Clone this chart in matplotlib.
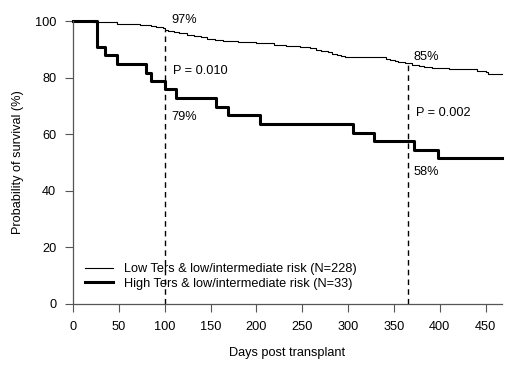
import matplotlib
matplotlib.use("Agg")
import matplotlib.pyplot as plt

plt.rcParams['font.family'] = ['Liberation Sans', 'DejaVu Sans']

# Low Ters group (N=228): event days and survival (%)
low_days = [0, 22, 48, 73, 85, 91, 98, 100, 104, 110, 116, 124, 132, 140, 146, 155,
            164, 180, 200, 219, 232, 248, 258, 265, 270, 278, 283, 288, 292, 297,
            341, 346, 351, 355, 362, 370, 377, 383, 392, 410, 441, 450, 453, 468]
low_surv = [100, 99.6, 99.1, 98.7, 98.3, 97.8, 97.4, 97.0, 96.5, 96.1, 95.6, 95.2, 94.7,
            94.3, 93.8, 93.4, 92.9, 92.5, 92.1, 91.6, 91.2, 90.7, 90.3, 89.8, 89.4,
            88.9, 88.5, 88.1, 87.6, 87.2, 86.7, 86.3, 85.8, 85.4, 85.0, 84.6, 84.2,
            83.7, 83.3, 82.9, 82.4, 81.9, 81.4, 81.4]

# High Ters group (N=33)
high_days = [0, 26, 35, 48, 80, 85, 100, 112, 156, 169, 204, 305, 328, 372, 398, 468]
high_surv = [100, 90.9, 87.9, 84.8, 81.8, 78.8, 75.8, 72.7, 69.7, 66.7, 63.6, 60.6,
             57.6, 54.5, 51.5, 51.5]

landmarks = [100, 365]
landmark_low = [97, 85]
labels_low = ["97%", "85%"]
labels_high = ["79%", "58%"]
pvals = ["P = 0.010", "P = 0.002"]

fs = 9.2

fig = plt.figure(figsize=(5.2, 3.76), dpi=100)
ax = fig.add_axes([0.1404, 0.1915, 0.825, 0.7526])

ax.step(low_days, low_surv, where='post', color='black', lw=0.8,
        label="Low Ters & low/intermediate risk (N=228)", clip_on=False)
ax.step(high_days, high_surv, where='post', color='black', lw=2.2,
        label="High Ters & low/intermediate risk (N=33)", clip_on=False)

for d, v in zip(landmarks, landmark_low):
    ax.plot([d, d], [0, v], color='black', lw=1.0, ls=(0, (4, 3)))

ax.text(107, 100.5, labels_low[0], fontsize=fs, va='center')
ax.text(109, 82.4, pvals[0], fontsize=fs, va='center')
ax.text(107, 66.2, labels_high[0], fontsize=fs, va='center')
ax.text(371, 87.4, labels_low[1], fontsize=fs, va='center')
ax.text(374, 67.4, pvals[1], fontsize=fs, va='center')
ax.text(371, 46.5, labels_high[1], fontsize=fs, va='center')

ax.set_xlim(0, 468)
ax.set_ylim(0, 100)
ax.set_xticks(range(0, 451, 50))
ax.set_yticks(range(0, 101, 20))
for s in ['top', 'right']:
    ax.spines[s].set_visible(False)
for s in ['left', 'bottom']:
    ax.spines[s].set_color('#555555')
    ax.spines[s].set_linewidth(0.9)
ax.tick_params(axis='both', length=6, width=0.8, color='#555555', labelsize=fs, pad=6)

ax.set_xlabel("Days post transplant", fontsize=fs, labelpad=10)
ax.set_ylabel("Probability of survival (%)", fontsize=fs, labelpad=8)

ax.legend(loc='lower left', bbox_to_anchor=(0.0, 0.01), frameon=False, fontsize=fs,
          handlelength=2.2, handletextpad=0.9, labelspacing=0.2)

fig.savefig("out.png", dpi=100)
